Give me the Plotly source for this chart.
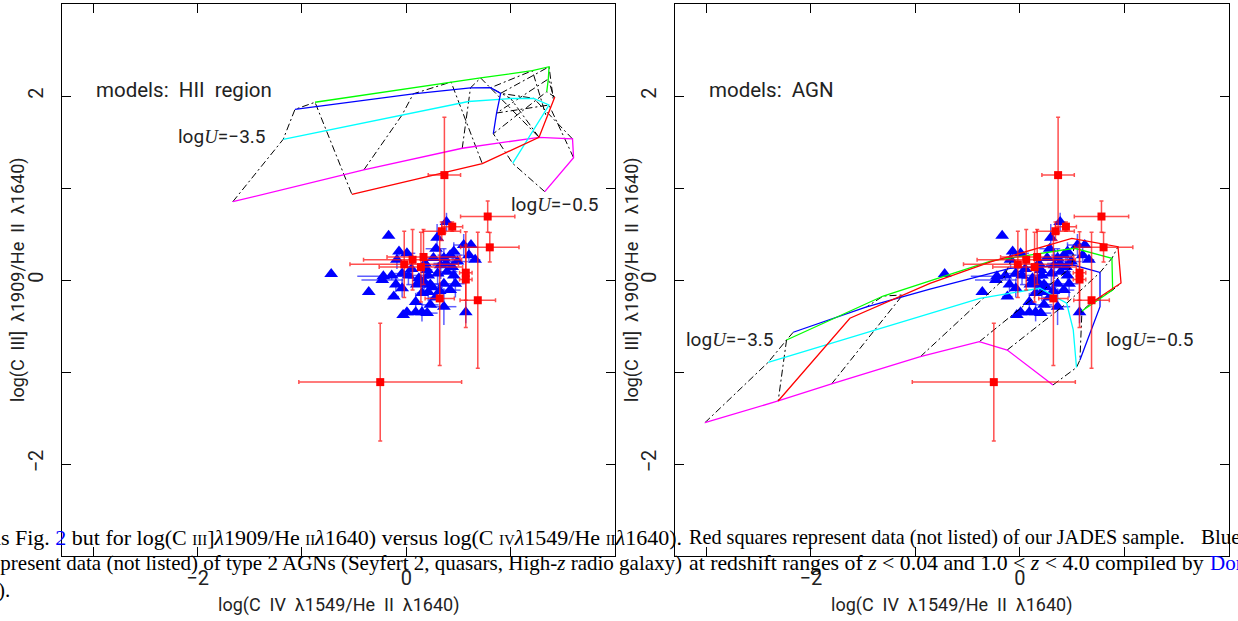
import plotly.graph_objects as go

# ---------------- data: JADES sample (red squares) ----------------
jades_x = [0.78, 0.80, 0.44, 0.34, 0.165, 0.06, -0.02, 0.14, 0.57, 0.57, 0.32, 0.685, 0.365, -0.25]
jades_y = [0.69, 0.355, 0.58, 0.53, 0.25, 0.22, 0.17, 0.14, 0.08, 0.005, -0.20, -0.22, 1.14, -1.11]
jades_ex = [0.26, 0.28, 0.10, 0.18, 0.35, 0.47, 0.52, 0.40, 0.06, 0.06, 0.14, 0.17, 0.155, 0.78]
jades_ey = [0.17, 0.16, 0.05, 0.10, 0.30, 0.33, 0.36, 0.38, 0.30, 0.52, 0.73, 0.74, 0.63, 0.64]

# ---------------- data: type 2 AGNs (blue triangles) ----------------
agn_x = [-0.17, 0.385, 0.295, 0.285, -0.07, 0.006, 0.55, 0.62, 0.66, 0.60, 0.42, 0.36, 0.49, 0.33,
         -0.09, -0.22, -0.14, -0.04, 0.02, 0.21, 0.30, 0.39, 0.455, -0.36, -0.23, -0.10, -0.12, -0.04,
         0.10, 0.17, 0.23, 0.21, 0.15, 0.36, 0.47, 0.42, 0.09, 0.23, 0.36, 0.006, 0.09, 0.15, 0.20,
         0.57, -0.03, 0.20, 0.135, 0.26, 0.455, -0.72, 0.25, 0.32, 0.28, 0.05, 0.12, 0.18, 0.38, 0.44]
agn_y = [0.48, 0.63, 0.46, 0.34, 0.31, 0.29, 0.38, 0.38, 0.22, 0.27, 0.27, 0.24, 0.20, 0.16,
         0.22, 0.04, 0.05, 0.07, 0.05, 0.05, 0.07, 0.09, 0.05, -0.13, 0.00, -0.05, -0.18, -0.09,
         -0.05, -0.02, -0.05, -0.13, -0.14, -0.04, -0.04, -0.11, -0.24, -0.27, -0.29, -0.35, -0.35, -0.35, -0.36,
         -0.35, -0.38, 0.11, -0.04, 0.24, 0.31, 0.065, -0.08, -0.12, -0.19, 0.12, 0.02, 0.18, 0.18, 0.14]
agn_ex = [0.0, 0.05, 0.0, 0.1, 0.0, 0.08, 0.1, 0.0, 0.05, 0.0, 0.12, 0.0, 0.1, 0.08,
          0.0, 0.25, 0.0, 0.1, 0.0, 0.15, 0.0, 0.1, 0.0, 0.0, 0.2, 0.0, 0.05, 0.0,
          0.1, 0.0, 0.15, 0.0, 0.05, 0.2, 0.0, 0.1, 0.0, 0.08, 0.12, 0.0, 0.05, 0.0, 0.1,
          0.0, 0.0, 0.05, 0.0, 0.1, 0.0, 0.0, 0.1, 0.0, 0.06, 0.0, 0.1, 0.0, 0.12, 0.0]
agn_ey = [0.0, 0.1, 0.15, 0.0, 0.05, 0.0, 0.12, 0.0, 0.0, 0.08, 0.0, 0.1, 0.0, 0.15,
          0.1, 0.0, 0.05, 0.0, 0.1, 0.0, 0.12, 0.0, 0.1, 0.0, 0.0, 0.08, 0.0, 0.1,
          0.0, 0.12, 0.0, 0.1, 0.0, 0.0, 0.15, 0.0, 0.1, 0.0, 0.2, 0.0, 0.0, 0.1, 0.0,
          0.12, 0.0, 0.1, 0.0, 0.0, 0.1, 0.0, 0.0, 0.1, 0.0, 0.08, 0.0, 0.1, 0.0, 0.1]

# ---------------- models: HII region (left panel) ----------------
hii_magenta_x = [-1.663, -0.408, 0.536, 1.272, 1.593, 1.603, 1.327]
hii_magenta_y = [0.851, 1.196, 1.432, 1.551, 1.533, 1.329, 0.960]
hii_cyan_x = [-1.180, -0.041, 0.596, 1.000, 1.221, 1.368, 1.019]
hii_cyan_y = [1.529, 1.793, 1.940, 1.973, 1.975, 1.902, 1.268]
hii_blue_x = [-1.067, 0.067, 0.615, 0.808, 0.904, 0.865, 0.834]
hii_blue_y = [1.855, 2.024, 2.089, 2.090, 2.029, 1.815, 1.590]
hii_green_x = [-0.875, 0.429, 0.712, 1.208, 1.368, 1.361, 1.346]
hii_green_y = [1.932, 2.152, 2.196, 2.275, 2.318, 2.185, 2.047]
hii_red_x = [-0.522, 0.728, 1.272, 1.346, 1.411, 1.418, 1.423]
hii_red_y = [0.932, 1.264, 1.551, 1.760, 1.940, 1.967, 1.989]

# ---------------- models: AGN (right panel) ----------------
agnm_magenta_x = [-3.014, -2.313, -1.802, -0.953, -0.389, -0.122, 0.316]
agnm_magenta_y = [-1.551, -1.315, -1.130, -0.834, -0.671, -0.761, -1.141]
agnm_cyan_x = [-2.409, -1.292, -0.383, 0.191, 0.447, 0.510, 0.541]
agnm_cyan_y = [-0.895, -0.514, -0.199, -0.090, -0.253, -0.543, -0.951]
agnm_blue_x = [-2.169, -1.467, -0.861, -0.096, 0.510, 0.766, 0.766, 0.574]
agnm_blue_y = [-0.568, -0.293, -0.098, 0.127, 0.163, 0.082, -0.290, -0.870]
agnm_green_x = [-2.233, -1.308, -0.273, 0.522, 0.880, 0.887, 0.593]
agnm_green_y = [-0.652, -0.174, 0.207, 0.345, 0.236, -0.109, -0.337]
agnm_red_x = [-2.313, -1.627, -0.861, -0.273, 0.496, 0.938, 0.967, 0.679]
agnm_red_y = [-1.315, -0.416, -0.036, 0.199, 0.453, 0.362, -0.033, -0.250]

# iso-U dash-dot lines of the AGN grid
agnm_iso_x = [[-3.014, -2.409, -2.233, -2.169],
              [-2.233, -2.313],
              [-1.802, -1.122, -1.308, -1.467],
              [-0.953, -0.163, -0.077],
              [-0.389, 0.495, 0.517],
              [-0.122, 0.447, 0.766, 0.880, 0.938],
              [0.316, 0.541, 0.574, 0.593, 0.679, 0.887, 0.967]]
agnm_iso_y = [[-1.551, -0.895, -0.652, -0.568],
              [-0.652, -1.315],
              [-1.130, -0.163, -0.174, -0.293],
              [-0.834, 0.000, 0.239],
              [-0.671, 0.141, 0.370],
              [-0.761, -0.253, 0.082, 0.236, 0.362],
              [-1.141, -0.951, -0.870, -0.337, -0.250, -0.109, -0.033]]

x_ticks = [-3, -2, -1, 0, 1]
x_ticktext = ["", "\u22122", "", "0", ""]
y_ticks = [-3, -2, -1, 0, 1, 2, 3]
y_ticktext = ["", "\u22122", "", "0", "", "2", ""]

RED = "#ff0000"
BLUE = "#0000ff"
TXT = "#222222"
DASHDOT = "7px,3px,2px,3px"

fig = go.Figure()


def add_data(xa, ya):
    fig.add_trace(go.Scatter(
        x=agn_x, y=agn_y, mode="markers", xaxis=xa, yaxis=ya, showlegend=False,
        marker=dict(symbol="triangle-up", size=12, color=BLUE, line=dict(width=0)),
        error_x=dict(type="data", array=agn_ex, color="rgba(40,40,255,0.75)", thickness=1.5, width=0),
        error_y=dict(type="data", array=agn_ey, color="rgba(40,40,255,0.75)", thickness=1.5, width=0),
    ))


def add_jades(xa, ya):
    fig.add_trace(go.Scatter(
        x=jades_x, y=jades_y, mode="markers", xaxis=xa, yaxis=ya, showlegend=False,
        marker=dict(symbol="square", size=8, color=RED, line=dict(width=0)),
        error_x=dict(type="data", array=jades_ex, color="rgba(255,20,20,0.75)", thickness=1.5, width=2),
        error_y=dict(type="data", array=jades_ey, color="rgba(255,20,20,0.75)", thickness=1.5, width=2),
    ))


def add_line(xs, ys, color, xa, ya, dash="solid", width=1.3):
    fig.add_trace(go.Scatter(x=xs, y=ys, mode="lines", xaxis=xa, yaxis=ya, showlegend=False,
                             line=dict(color=color, width=width, dash=dash)))


# ----- left panel -----
add_data("x", "y")
hii_tracks = [(hii_magenta_x, hii_magenta_y, "#ff00ff"), (hii_cyan_x, hii_cyan_y, "#00ffff"),
              (hii_blue_x, hii_blue_y, BLUE), (hii_green_x, hii_green_y, "#00ff00"),
              (hii_red_x, hii_red_y, RED)]
for i in range(len(hii_magenta_x)):
    add_line([t[0][i] for t in hii_tracks], [t[1][i] for t in hii_tracks], "#000000", "x", "y",
             dash=DASHDOT, width=1)
for tx, ty, col in hii_tracks:
    add_line(tx, ty, col, "x", "y")
add_jades("x", "y")

# ----- right panel -----
add_data("x2", "y2")
for ix, iy in zip(agnm_iso_x, agnm_iso_y):
    add_line(ix, iy, "#000000", "x2", "y2", dash=DASHDOT, width=1)
for tx, ty, col in [(agnm_magenta_x, agnm_magenta_y, "#ff00ff"), (agnm_cyan_x, agnm_cyan_y, "#00ffff"),
                    (agnm_blue_x, agnm_blue_y, BLUE), (agnm_green_x, agnm_green_y, "#00ff00"),
                    (agnm_red_x, agnm_red_y, RED)]:
    add_line(tx, ty, col, "x2", "y2")
add_jades("x2", "y2")

axis_common = dict(showline=True, linecolor="#000000", linewidth=1, mirror="allticks",
                   ticks="inside", ticklen=9, tickcolor="#000000", tickwidth=1,
                   showgrid=False, zeroline=False,
                   tickfont=dict(family="Roboto", size=20, color=TXT))

fig.update_layout(
    width=1238, height=621,
    margin=dict(l=62, r=9, t=4, b=65),
    paper_bgcolor="white", plot_bgcolor="white",
    xaxis=dict(domain=[0, 0.47386], range=[-3.3, 2.0], tickvals=x_ticks, ticktext=x_ticktext,
               anchor="y", ticklabelstandoff=4, **axis_common),
    yaxis=dict(domain=[0, 1], range=[-3, 3], tickvals=y_ticks, ticktext=y_ticktext,
               anchor="x", tickangle=-90, ticklabelstandoff=10, **axis_common),
    xaxis2=dict(domain=[0.52528, 1], range=[-3.3, 2.0], tickvals=x_ticks, ticktext=x_ticktext,
                anchor="y2", ticklabelstandoff=4, **axis_common),
    yaxis2=dict(domain=[0, 1], range=[-3, 3], tickvals=y_ticks, ticktext=y_ticktext,
                anchor="x2", tickangle=-90, ticklabelstandoff=10, **axis_common),
)

lab_font = dict(family="Roboto", size=20.5, color=TXT)
u_font = dict(family="Roboto", size=19, color=TXT)
logu = lambda v: 'log<span style="font-family:Liberation Serif"><i>U</i></span>=\u2212' + v

ann = [
    dict(x=-2.99, y=2.065, xref="x", yref="y", text="models:  HII  region", xanchor="left", font=lab_font),
    dict(x=-1.327, y=1.565, xref="x", yref="y", text=logu("3.5"), xanchor="right", font=u_font),
    dict(x=0.981, y=0.826, xref="x", yref="y", text=logu("0.5"), xanchor="left", font=u_font),
    dict(x=-2.995, y=2.065, xref="x2", yref="y2", text="models:  AGN", xanchor="left", font=lab_font),
    dict(x=-2.335, y=-0.652, xref="x2", yref="y2", text=logu("3.5"), xanchor="right", font=u_font),
    dict(x=0.804, y=-0.652, xref="x2", yref="y2", text=logu("0.5"), xanchor="left", font=u_font),
]
xtitle = "log(C  IV  \u03bb1549/He  II  \u03bb1640)"
ytitle = "log(C  III]  \u03bb1909/He  II  \u03bb1640)"
title_font = dict(family="Roboto", size=18, color=TXT)
ann += [
    dict(x=(338 - 62) / 1167, y=(556 - 605) / 552, xref="paper", yref="paper", text=xtitle, font=title_font,
         xanchor="center", yanchor="middle"),
    dict(x=(951 - 62) / 1167, y=(556 - 605) / 552, xref="paper", yref="paper", text=xtitle, font=title_font,
         xanchor="center", yanchor="middle"),
    dict(x=(18 - 62) / 1167, y=0.5, xref="paper", yref="paper", text=ytitle, textangle=-90, font=title_font,
         xanchor="center", yanchor="middle"),
    dict(x=(632 - 62) / 1167, y=0.5, xref="paper", yref="paper", text=ytitle, textangle=-90, font=title_font,
         xanchor="center", yanchor="middle"),
]

# ----- overlapping caption text (justified lines placed piece by piece) -----
sc = lambda s: '<span style="font-size:15px">' + s + '</span>'
lam = "<i>\u03bb</i>"
cap1a = ('As Fig. <span style="color:#0000ff">2</span> but for log(C ' + sc("III") + ']' + lam + '1909/He ' + sc("II")
         + lam + '1640) versus log(C ' + sc("IV") + lam + '1549/He ' + sc("II") + lam + '1640).')
cap1b = 'Red squares represent data (not listed) of our JADES sample.'
cap1c = 'Blue triangles'
cap2a = 'represent data (not listed) of type 2 AGNs (Seyfert 2, quasars, High-<i>z</i> radio galaxy)'
cap2b = 'at redshift ranges of <i>z</i> &lt; 0.04 and 1.0 &lt; <i>z</i> &lt; 4.0 compiled by'
cap2c = '<span style="color:#0000ff">Dors et al.</span>'
cap3 = '2020).'


def cfont(s):
    return dict(family="Liberation Serif", size=s, color="#000000")


def cap(px, py, text, font, anchor="left"):
    return dict(x=(px - 62) / 1167, y=(556 - py) / 552, xref="paper", yref="paper", text=text,
                xanchor=anchor, yanchor="middle", font=font)


ann += [
    cap(-17, 537, cap1a, cfont(22)),
    cap(687, 537, cap1b, cfont(20.2)),
    cap(1199, 537, cap1c, cfont(21)),
    cap(-18, 563, cap2a, cfont(21)),
    cap(687, 563, cap2b, cfont(21.8)),
    cap(1208, 563, cap2c, cfont(21)),
    cap(12, 590, cap3, cfont(21), anchor="right"),
]
for a in ann:
    a.setdefault("showarrow", False)
fig.update_layout(annotations=ann)

fig.write_html("out.html")
